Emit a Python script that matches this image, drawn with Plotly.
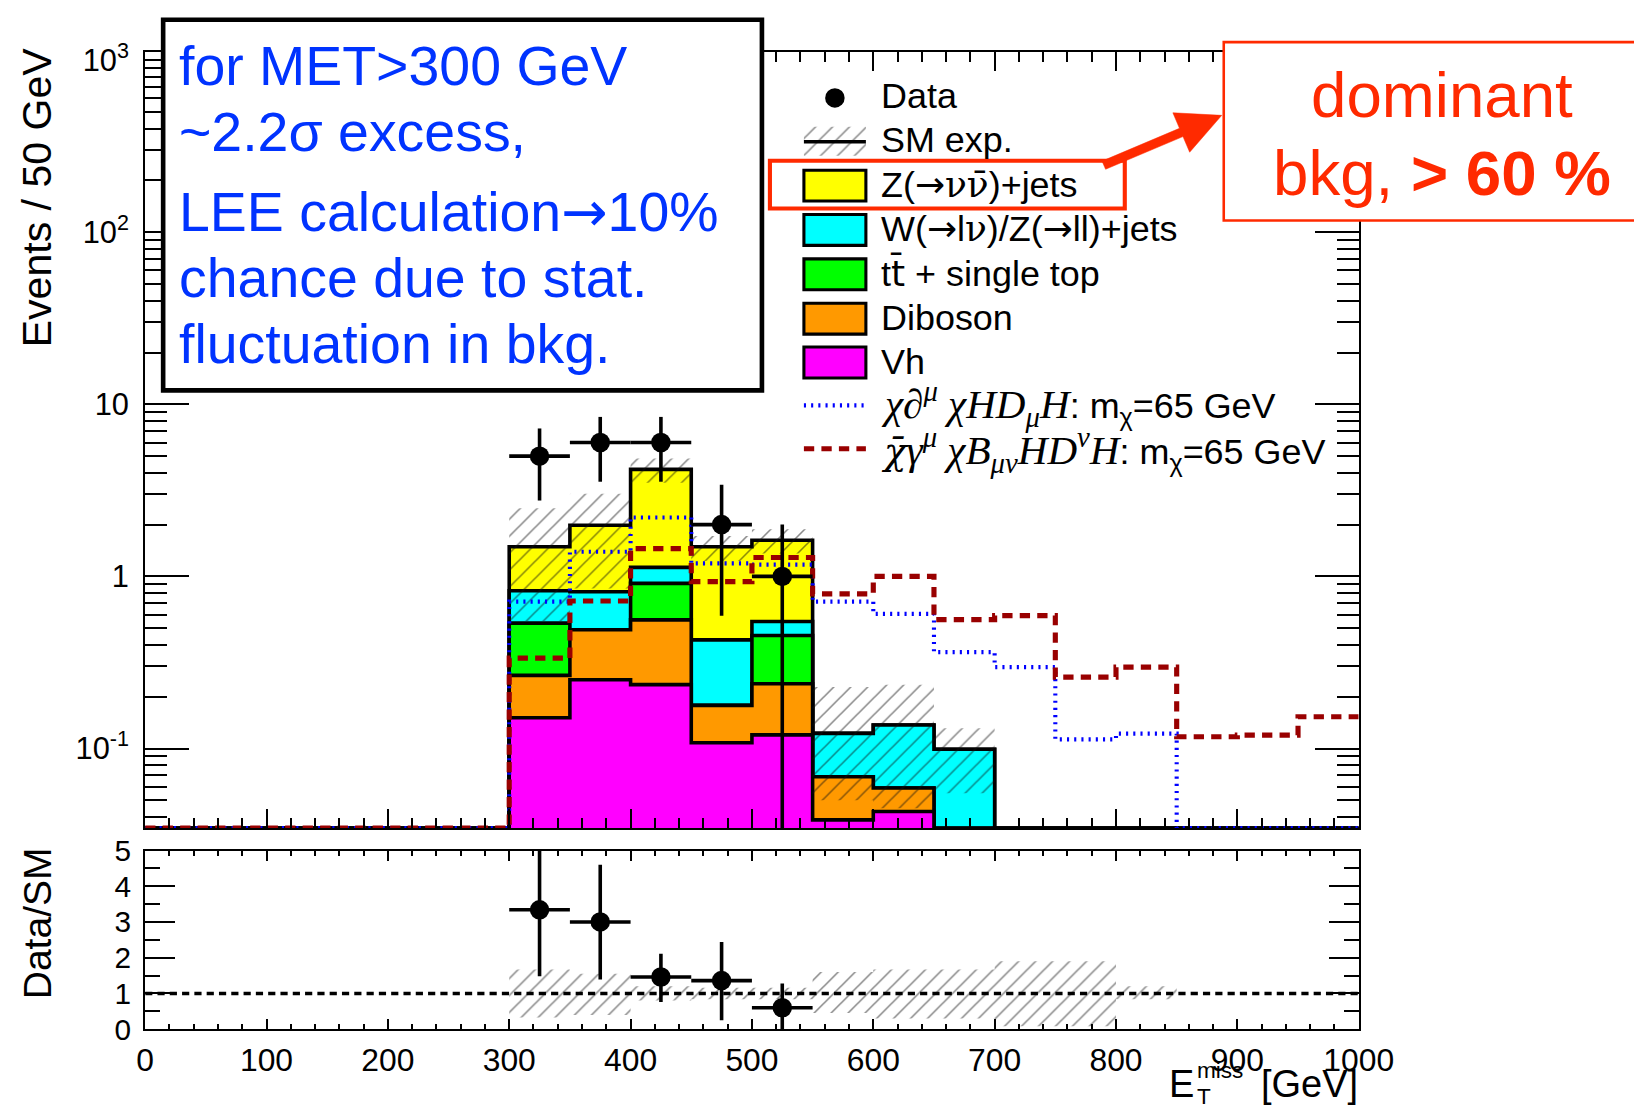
import math
import plotly.graph_objects as go

# ---------------- data ----------------
bin_edges = [0, 50, 100, 150, 200, 250, 300, 350, 400, 450, 500,
             550, 600, 650, 700, 750, 800, 850, 900, 950, 1000]

# background components per 50 GeV bin (stack order bottom -> top)
bkg_vh      = [0, 0, 0, 0, 0, 0, 0.151, 0.251, 0.235, 0.108, 0.120, 0.0385, 0.043, 0, 0, 0, 0, 0, 0, 0]
bkg_diboson = [0, 0, 0, 0, 0, 0, 0.115, 0.239, 0.324, 0.070, 0.118, 0.030, 0.016, 0, 0, 0, 0, 0, 0, 0]
bkg_top     = [0, 0, 0, 0, 0, 0, 0.269, 0.0, 0.352, 0.0, 0.216, 0, 0, 0, 0, 0, 0, 0, 0, 0]
bkg_wz      = [0, 0, 0, 0, 0, 0, 0.291, 0.325, 0.217, 0.250, 0.093, 0.054, 0.078, 0.099, 0, 0, 0, 0, 0, 0]
bkg_znn     = [0, 0, 0, 0, 0, 0, 0.660, 1.170, 3.062, 1.058, 1.077, 0, 0, 0, 0, 0, 0, 0, 0, 0]

# SM uncertainty band in the main panel (None = no band)
sm_band_lo = [None, None, None, None, None, None, 0.55, 0.85, 3.5, 1.23, 1.36, 0.05, 0.045, 0.055, None, None, None, None, None, None]
sm_band_hi = [None, None, None, None, None, None, 2.49, 3.02, 4.85, 1.72, 1.88, 0.228, 0.235, 0.131, None, None, None, None, None, None]

# signals
sig_dmu = [0, 0, 0, 0, 0, 0, 0.714, 1.39, 2.20, 1.19, 1.17, 0.714, 0.606, 0.363, 0.297, 0.113, 0.122, 0, 0, 0]
sig_bmunu = [0, 0, 0, 0, 0, 0, 0.335, 0.72, 1.45, 0.932, 1.288, 0.791, 1.0, 0.561, 0.592, 0.26, 0.297, 0.117, 0.1196, 0.153]

# data
data_x = [325, 375, 425, 475, 525]
data_xerr = [25, 25, 25, 25, 25]
data_y = [5, 6, 6, 2, 1]
data_err_up = [2.24, 2.45, 2.45, 1.41, 1.0]
data_err_dn = [2.24, 2.45, 2.45, 1.41, 0.99]

# ratio panel
ratio_y = [3.34, 3.00, 1.46, 1.36, 0.60]
ratio_err_up = [1.70, 1.60, 0.65, 1.08, 0.68]
ratio_err_dn = [1.86, 1.61, 0.70, 1.11, 0.60]
ratio_band_lo = [None, None, None, None, None, None, 0.33, 0.40, 0.80, 0.84, 0.84, 0.45, 0.30, 0.30, 0.08, 0.08, 0.84, None, None, None]
ratio_band_hi = [None, None, None, None, None, None, 1.67, 1.55, 1.20, 1.16, 1.16, 1.60, 1.67, 1.67, 1.90, 1.90, 1.20, None, None, None]

ytick_vals = [0.1, 1, 10, 100, 1000]
ytick_text = ["10<sup>-1</sup>", "1", "10", "10<sup>2</sup>", "10<sup>3</sup>"]

# ---------------- geometry ----------------
# Positions below are given in the 1643x1111 picture frame. The page is
# photographed slightly reduced, so sizes are divided by S and the figure is
# placed so that picture-frame coordinates land where intended.
S = 0.974          # picture px per page px
DY = 6.5           # vertical shift of the photograph (picture px)
OFF = 8            # body margin (page px)
W, H = 1669, 1123  # figure size (page px)


def z(v):
    return v / S


def zi(v):
    return int(round(v / S))


def fig_x(rx):
    return rx / S - OFF


def fig_y(ry):
    return (ry - DY) / S - OFF


def fx(rx):
    return fig_x(rx) / W


def fy(ry):
    return 1 - fig_y(ry) / H


X0, X1 = 144, 1358
MAIN_TOP, MAIN_BOT = 49.3, 828.3
R_TOP, R_BOT = 850.7, 1030
LOGMIN, LOGMAX = -1.463, 3.048
YMIN = 10 ** LOGMIN

C_Z = "#ffff00"; C_WZ = "#00ffff"; C_TOP = "#00ff00"; C_DIB = "#ff9900"; C_VH = "#ff00ff"
C_BLUE = "#0000ff"; C_RED = "#990000"
FONT = "Liberation Sans, Arial, Helvetica, sans-serif"
SERIF = "Liberation Serif, Times New Roman, serif"
DJS = "DejaVu Sans"
DJSERIF = "DejaVu Serif"

nb = len(bin_edges) - 1


def cumulative(*comps):
    return [sum(c[i] for c in comps) for i in range(nb)]


def step_polygon(vals):
    xs, ys = [bin_edges[0]], [YMIN]
    for i, v in enumerate(vals):
        vv = max(v, YMIN)
        xs += [bin_edges[i], bin_edges[i + 1]]
        ys += [vv, vv]
    xs.append(bin_edges[-1]); ys.append(YMIN)
    return xs, ys


def band_polys(lo, hi):
    xs, ys = [], []
    for i in range(nb):
        if lo[i] is None:
            continue
        a, b = bin_edges[i], bin_edges[i + 1]
        xs += [a, b, b, a, a, None]
        ys += [lo[i], lo[i], hi[i], hi[i], lo[i], None]
    return xs, ys


fig = go.Figure()

LW = z(3.5)
layers = [
    (cumulative(bkg_vh, bkg_diboson, bkg_top, bkg_wz, bkg_znn), C_Z),
    (cumulative(bkg_vh, bkg_diboson, bkg_top, bkg_wz), C_WZ),
    (cumulative(bkg_vh, bkg_diboson, bkg_top), C_TOP),
    (cumulative(bkg_vh, bkg_diboson), C_DIB),
    (cumulative(bkg_vh), C_VH),
]
for vals, col in layers:
    xs, ys = step_polygon(vals)
    fig.add_trace(go.Scatter(x=xs, y=ys, mode="lines", fill="toself", fillcolor=col,
                             line=dict(color="black", width=LW), xaxis="x", yaxis="y",
                             hoverinfo="skip"))

HATCH = dict(shape="/", fgcolor="#111111", bgcolor="rgba(0,0,0,0)", size=zi(12), solidity=0.13)

bx, by = band_polys(sm_band_lo, sm_band_hi)
fig.add_trace(go.Scatter(x=bx, y=by, mode="lines", fill="toself", fillcolor="rgba(0,0,0,0)",
                         fillpattern=HATCH, line=dict(width=0, color="rgba(0,0,0,0)"),
                         xaxis="x", yaxis="y", hoverinfo="skip"))


def step_line(vals):
    ys = [max(v, YMIN) for v in vals]
    return bin_edges, ys + [ys[-1]]


BLUE_DASH = "%.1fpx,%.1fpx" % (z(2), z(5))
RED_DASH = "%.1fpx,%.1fpx" % (z(10), z(7))
sx, sy = step_line(sig_dmu)
fig.add_trace(go.Scatter(x=sx, y=sy, mode="lines", line=dict(color=C_BLUE, width=z(4), dash=BLUE_DASH, shape="hv"),
                         xaxis="x", yaxis="y", hoverinfo="skip"))
sx, sy = step_line(sig_bmunu)
fig.add_trace(go.Scatter(x=sx, y=sy, mode="lines", line=dict(color=C_RED, width=z(5), dash=RED_DASH, shape="hv"),
                         xaxis="x", yaxis="y", hoverinfo="skip"))

MS = z(19)
fig.add_trace(go.Scatter(x=data_x, y=data_y, mode="markers",
                         marker=dict(color="black", size=MS),
                         error_x=dict(type="data", array=data_xerr, thickness=LW, width=0, color="black"),
                         error_y=dict(type="data", array=data_err_up, arrayminus=data_err_dn, symmetric=False,
                                      thickness=LW, width=0, color="black"),
                         xaxis="x", yaxis="y", hoverinfo="skip"))

# ratio panel
rbx, rby = band_polys(ratio_band_lo, ratio_band_hi)
fig.add_trace(go.Scatter(x=rbx, y=rby, mode="lines", fill="toself", fillcolor="rgba(0,0,0,0)",
                         fillpattern=HATCH, line=dict(width=0, color="rgba(0,0,0,0)"),
                         xaxis="x2", yaxis="y2", hoverinfo="skip"))
fig.add_trace(go.Scatter(x=[bin_edges[0], bin_edges[-1]], y=[1, 1], mode="lines",
                         line=dict(color="black", width=LW, dash="%.1fpx,%.1fpx" % (z(7), z(5))),
                         xaxis="x2", yaxis="y2", hoverinfo="skip"))
fig.add_trace(go.Scatter(x=data_x, y=ratio_y, mode="markers",
                         marker=dict(color="black", size=MS),
                         error_x=dict(type="data", array=data_xerr, thickness=LW, width=0, color="black"),
                         error_y=dict(type="data", array=ratio_err_up, arrayminus=ratio_err_dn, symmetric=False,
                                      thickness=LW, width=0, color="black"),
                         xaxis="x2", yaxis="y2", hoverinfo="skip"))

# ---------------- legend (overlay axes in picture-frame pixels) ----------------
rows = [93.5, 137.5, 182.5, 227, 271.5, 316, 360, 403, 448.5]
LX0, LX1, TX = 803, 865, 878
fig.add_trace(go.Scatter(x=[834], y=[rows[0] + 2], mode="markers", marker=dict(color="black", size=MS),
                         xaxis="x3", yaxis="y3", hoverinfo="skip"))
hy0, hy1 = rows[1] - 13, rows[1] + 16
fig.add_trace(go.Scatter(x=[LX0, LX1, LX1, LX0, LX0], y=[hy0, hy0, hy1, hy1, hy0], mode="lines", fill="toself",
                         fillcolor="rgba(0,0,0,0)", fillpattern=HATCH, line=dict(width=0, color="rgba(0,0,0,0)"),
                         xaxis="x3", yaxis="y3", hoverinfo="skip"))
fig.add_trace(go.Scatter(x=[LX0, LX1], y=[rows[1] + 2, rows[1] + 2], mode="lines", line=dict(color="black", width=LW),
                         xaxis="x3", yaxis="y3", hoverinfo="skip"))
fig.add_trace(go.Scatter(x=[LX0, LX1], y=[rows[7] + 1, rows[7] + 1], mode="lines",
                         line=dict(color=C_BLUE, width=z(4), dash=BLUE_DASH), xaxis="x3", yaxis="y3", hoverinfo="skip"))
fig.add_trace(go.Scatter(x=[LX0, LX1], y=[rows[8] - 1, rows[8] - 1], mode="lines",
                         line=dict(color=C_RED, width=z(5), dash=RED_DASH), xaxis="x3", yaxis="y3", hoverinfo="skip"))

shapes = []
for r, col in zip(rows[2:7], [C_Z, C_WZ, C_TOP, C_DIB, C_VH]):
    shapes.append(dict(type="rect", xref="x3", yref="y3", x0=LX0, x1=LX1, y0=r - 14.5, y1=r + 16.5,
                       fillcolor=col, line=dict(color="black", width=z(3)), layer="above"))


def sp(font, txt, size=None):
    style = "font-family:%s" % font
    if size is not None:
        style += ";font-size:%.1fpx" % size
    return '<span style="%s">%s</span>' % (style, txt)


MATH = z(40)
ARROW = sp(DJS, "→")
NU = sp(DJSERIF, "ν")
NUBAR = sp(DJSERIF, "ν\u0304")
legend_texts = [
    "Data", "SM exp.",
    "Z(" + ARROW + NU + NUBAR + ")+jets",
    "W(" + ARROW + "l" + NU + ")/Z(" + ARROW + "ll)+jets",
    "t" + sp(DJS, "t\u0304") + " + single top", "Diboson", "Vh",
    sp(SERIF, "<i>χ∂<sup>μ</sup> χHD<sub>μ</sub>H</i>", MATH) + ": m<sub>χ</sub>=65 GeV",
    sp(DJSERIF, "<i>χ\u0304</i>", z(36)) + sp(SERIF, "<i>γ<sup>μ</sup> χB<sub>μν</sub>HD<sup>ν</sup>H</i>", MATH)
    + ": m<sub>χ</sub>=65 GeV",
]
annotations = []
for r, t in zip(rows, legend_texts):
    annotations.append(dict(xref="x3", yref="y3", x=TX, y=r, text=t, showarrow=False, xanchor="left",
                            yanchor="middle", font=dict(size=z(35), family=FONT, color="black")))

# blue comment box (its top edge is kept just inside the drawable page area)
shapes.append(dict(type="rect", xref="x3", yref="y3", x0=162, x1=761, y0=17, y1=389,
                   fillcolor="white", line=dict(color="black", width=z(4.5)), layer="above"))
BLUE_TXT = "#0033ff"
box_lines = ["for MET&gt;300 GeV", "~2.2σ excess,", "LEE calculation" + sp(DJS, "→") + "10%", "chance due to stat.",
             "fluctuation in bkg."]
box_y = [63, 129.5, 209.5, 276, 342.5]
for t, y in zip(box_lines, box_y):
    annotations.append(dict(xref="x3", yref="y3", x=176, y=y, text=t, showarrow=False, xanchor="left",
                            yanchor="middle", font=dict(size=z(54), family=FONT, color=BLUE_TXT)))

# red comment box, frame around legend entry, arrow
RED = "#ff2a00"
shapes.append(dict(type="rect", xref="x3", yref="y3", x0=1223, x1=1700, y0=39.5, y1=218.5,
                   fillcolor="white", line=dict(color=RED, width=z(2.5)), layer="above"))
shapes.append(dict(type="rect", xref="x3", yref="y3", x0=769, x1=1124, y0=158.5, y1=206.5,
                   fillcolor="rgba(0,0,0,0)", line=dict(color=RED, width=z(4)), layer="above"))
tx_, ty_ = 1103.0, 163.0
px_, py_ = 1221.0, 113.0
dl = math.hypot(px_ - tx_, py_ - ty_)
dx, dy = (px_ - tx_) / dl, (py_ - ty_) / dl
nx, ny = -dy, dx
HL, HW, SW = 44.0, 21.5, 4.5
bxp, byp = px_ - HL * dx, py_ - HL * dy
pts = [(tx_ + SW * nx, ty_ + SW * ny), (bxp + SW * nx, byp + SW * ny), (bxp + HW * nx, byp + HW * ny),
       (px_, py_), (bxp - HW * nx, byp - HW * ny), (bxp - SW * nx, byp - SW * ny), (tx_ - SW * nx, ty_ - SW * ny)]
path = "M " + " L ".join("%.1f,%.1f" % p for p in pts) + " Z"
shapes.append(dict(type="path", xref="x3", yref="y3", path=path, fillcolor=RED,
                   line=dict(color=RED, width=0.5), layer="above"))
annotations.append(dict(xref="x3", yref="y3", x=1441, y=92, text="dominant", showarrow=False,
                        xanchor="center", yanchor="middle", font=dict(size=z(62), family=FONT, color=RED)))
annotations.append(dict(xref="x3", yref="y3", x=1441, y=170, text="bkg, <b>&gt; 60 %</b>", showarrow=False,
                        xanchor="center", yanchor="middle", font=dict(size=z(62), family=FONT, color=RED)))

# axis titles
annotations.append(dict(xref="x3", yref="y3", x=36, y=195, text="Events / 50 GeV", textangle=-90,
                        showarrow=False, xanchor="center", yanchor="middle",
                        font=dict(size=z(40), family=FONT, color="black")))
annotations.append(dict(xref="x3", yref="y3", x=36, y=923.5, text="Data/SM", textangle=-90,
                        showarrow=False, xanchor="center", yanchor="middle",
                        font=dict(size=z(38), family=FONT, color="black")))
annotations.append(dict(xref="x3", yref="y3", x=1195, y=1085, text="E", showarrow=False,
                        xanchor="right", yanchor="middle", font=dict(size=z(37), family=FONT, color="black")))
annotations.append(dict(xref="x3", yref="y3", x=1194, y=1071, text="miss", showarrow=False,
                        xanchor="left", yanchor="middle", font=dict(size=z(22), family=FONT, color="black")))
annotations.append(dict(xref="x3", yref="y3", x=1194, y=1098, text="T", showarrow=False,
                        xanchor="left", yanchor="middle", font=dict(size=z(22), family=FONT, color="black")))
annotations.append(dict(xref="x3", yref="y3", x=1359, y=1085, text="[GeV]", showarrow=False,
                        xanchor="right", yanchor="middle", font=dict(size=z(37), family=FONT, color="black")))

minor_log = [m * 10 ** k for k in range(-2, 4) for m in range(2, 10)]

common = dict(showline=True, linewidth=z(2), linecolor="black", mirror="ticks", showgrid=False,
              zeroline=False, tickcolor="black", tickwidth=z(2), ticks="inside")

# overlay axis ranges so that x3/y3 coordinates are picture-frame pixels
x3_range = [S * OFF, S * (W + OFF)]
y3_range = [S * (H + OFF) + DY, S * OFF + DY]

fig.update_layout(
    width=W, height=H, margin=dict(l=0, r=0, t=0, b=0),
    paper_bgcolor="white", plot_bgcolor="rgba(0,0,0,0)", showlegend=False,
    font=dict(family=FONT, color="black"),
    xaxis=dict(domain=[fx(X0), fx(X1)], range=[0, 1000], anchor="y", showticklabels=False,
               tick0=0, dtick=100, ticklen=z(19),
               minor=dict(dtick=20, ticks="inside", ticklen=z(10), tickwidth=z(2), tickcolor="black"), **common),
    yaxis=dict(domain=[fy(MAIN_BOT), fy(MAIN_TOP)], type="log", range=[LOGMIN, LOGMAX], anchor="x",
               tickmode="array", tickvals=ytick_vals, ticktext=ytick_text, ticklen=z(43),
               tickfont=dict(size=z(30)), ticklabelstandoff=zi(8),
               minor=dict(tickmode="array", tickvals=minor_log, ticks="inside", ticklen=z(21), tickwidth=z(2),
                          tickcolor="black"), **common),
    xaxis2=dict(domain=[fx(X0), fx(X1)], range=[0, 1000], anchor="y2", tick0=0, dtick=100, ticklen=z(10),
                tickfont=dict(size=z(31)), ticklabelstandoff=zi(2),
                minor=dict(dtick=20, ticks="inside", ticklen=z(5), tickwidth=z(2), tickcolor="black"), **common),
    yaxis2=dict(domain=[fy(R_BOT), fy(R_TOP)], range=[0, 5], anchor="x2", tick0=0, dtick=1, ticklen=z(29),
                tickfont=dict(size=z(29)), ticklabelstandoff=zi(6),
                minor=dict(dtick=0.5, ticks="inside", ticklen=z(14), tickwidth=z(2), tickcolor="black"), **common),
    xaxis3=dict(domain=[0, 1], range=x3_range, anchor="y3", visible=False, fixedrange=True),
    yaxis3=dict(domain=[0, 1], range=y3_range, anchor="x3", visible=False, fixedrange=True),
    shapes=shapes, annotations=annotations,
)

fig.write_html("out.html")
